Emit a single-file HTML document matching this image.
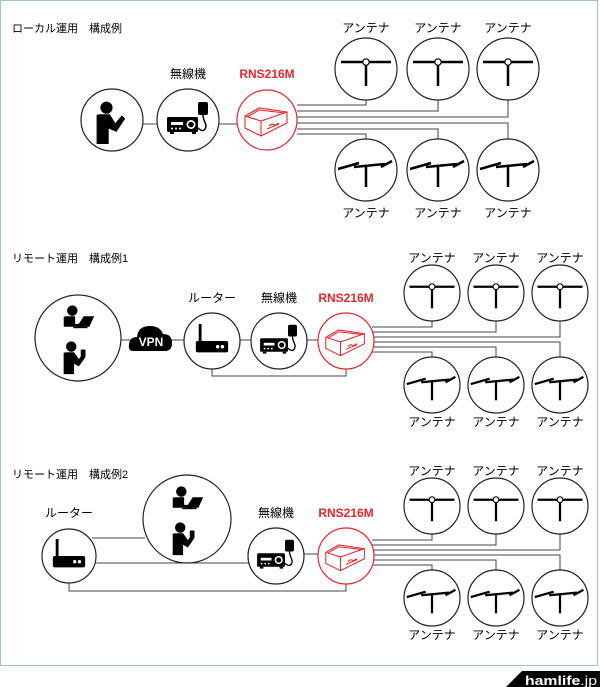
<!DOCTYPE html>
<html><head><meta charset="utf-8"><style>
html,body{margin:0;padding:0;background:#fff;}
svg{display:block;}
text{font-family:"Liberation Sans","Noto Sans CJK JP",sans-serif;}
</style></head><body>
<svg width="600" height="687" viewBox="0 0 600 687" xmlns="http://www.w3.org/2000/svg">
<defs>
<g id="dip">
 <line x1="-25" y1="-7" x2="25" y2="-7" stroke="#000" stroke-width="2.5"/>
 <line x1="0" y1="-7" x2="0" y2="17" stroke="#000" stroke-width="2.5"/>
 <circle cx="0" cy="-7" r="3.2" fill="#fff" stroke="#000" stroke-width="1.2"/>
</g>
<g id="yagi" fill="none" stroke="#000" stroke-width="2.5">
 <path d="M-28,-1 L-7,-7 M-12,-3 L19,-6 M15,-3 L26,-9"/>
 <line x1="0" y1="-4" x2="0" y2="17"/>
</g>
<g id="radio">
 <rect x="-21" y="-3" width="31" height="15" rx="1.5" fill="#000"/>
 <circle cx="3" cy="4.5" r="4.5" fill="#fff"/><circle cx="3" cy="4.5" r="2.8" fill="#000"/>
 <rect x="-17" y="2" width="12" height="3" fill="#fff"/>
 <circle cx="-16" cy="8.5" r="1" fill="#fff"/><circle cx="-12" cy="8.5" r="1" fill="#fff"/><circle cx="-8" cy="8.5" r="1" fill="#fff"/>
 <rect x="-18" y="12" width="4" height="2" fill="#000"/><rect x="4" y="12" width="4" height="2" fill="#000"/>
 <rect x="10" y="-18" width="10" height="13" rx="2" fill="#000"/>
 <path d="M15,-5 C15,2 20,4 17,9 C15,12 12,10 10,8" fill="none" stroke="#000" stroke-width="1.5"/>
</g>
<g id="rns" fill="none" stroke="#e8262b" stroke-width="1.1">
 <path d="M-22,-4 L-8,-12 L20,-8 L20,3 L-6,16 L-22,8 Z"/>
 <path d="M-22,-4 L-6,1 L20,-8 M-6,1 L-6,16"/>
 <path d="M-20,-3 L-8,-10 L18,-7"/>
 <path d="M2,6 l3,-2 l3,1 l4,-2 M0,9 l12,-5"/>
</g>
<g id="person">
 <circle cx="-5" cy="-13" r="5.5" fill="#000"/>
 <path d="M-14,-6 Q-14,-7 -10,-7 L-2,-7 L3,1 L9,-6 L12,-3 L4,9 L-3,6 L-3,20 L-14,20 Z" fill="#000"/>
</g>
<g id="laptop">
 <circle cx="-6" cy="-12" r="5.5" fill="#000"/>
 <path d="M-15,-5 Q-15,-6 -11,-6 L-3,-6 L-3,2 L6,2 L6,5 L-15,5 Z" fill="#000"/>
 <path d="M-1,5 L6,-6 L17,-6 L12,5 Z" fill="#000"/>
 <rect x="-5" y="5" width="15" height="1.5" fill="#000"/>
</g>
<g id="phone">
 <circle cx="-5" cy="-12" r="5.5" fill="#000"/>
 <path d="M-13,-5 Q-13,-6 -9,-6 L-2,-6 L3,1 L7,-4 L10,-1 L3,9 L-2,6 L-2,17 L-13,17 Z" fill="#000"/>
 <rect x="5" y="-9" width="5" height="8" rx="1" fill="#000"/>
</g>
<g id="router">
 <rect x="-17" y="0" width="34" height="12" rx="2" fill="#000"/>
 <rect x="-14" y="-18" width="3" height="19" fill="#000"/>
 <circle cx="6" cy="6" r="1.8" fill="#fff"/><circle cx="11" cy="6" r="1.8" fill="#fff"/>
</g>
</defs>

<rect x="0.5" y="0.5" width="597" height="665" fill="#fff" stroke="#9cc3e6" stroke-width="1"/>

<g font-size="11" fill="#000">
<text x="12" y="32">ローカル運用　構成例</text>
<text x="12" y="262">リモート運用　構成例1</text>
<text x="12" y="478">リモート運用　構成例2</text>
</g>

<!-- SECTION 1 -->
<g stroke="#444" stroke-width="1" fill="none">
 <line x1="143" y1="124" x2="157" y2="124"/>
 <line x1="219" y1="124" x2="237" y2="124"/>
 <polyline points="297,105 366,105 366,100"/>
 <polyline points="297,111 438,111 438,100"/>
 <polyline points="297,117 508,117 508,100"/>
 <polyline points="297,123 508,123 508,139"/>
 <polyline points="297,129 438,129 438,139"/>
 <polyline points="297,134 366,134 366,139"/>
</g>
<g fill="#fff" stroke="#222" stroke-width="1.2">
 <circle cx="112" cy="120" r="31"/>
 <circle cx="188" cy="120" r="31"/>
 <circle cx="366" cy="69" r="31"/><circle cx="438" cy="69" r="31"/><circle cx="508" cy="69" r="31"/>
 <circle cx="366" cy="170" r="31"/><circle cx="438" cy="170" r="31"/><circle cx="508" cy="170" r="31"/>
</g>
<circle cx="267" cy="120" r="30" fill="#fff" stroke="#e8262b" stroke-width="1.2"/>
<use href="#person" transform="translate(112,122) scale(1.1)"/>
<use href="#radio" x="188" y="120"/>
<use href="#rns" x="267" y="120"/>
<use href="#dip" x="366" y="69"/><use href="#dip" x="438" y="69"/><use href="#dip" x="508" y="69"/>
<use href="#yagi" x="366" y="170"/><use href="#yagi" x="438" y="170"/><use href="#yagi" x="508" y="170"/>
<g font-size="12" text-anchor="middle">
 <text x="188" y="78">無線機</text>
 <text x="267" y="78" fill="#e8262b" font-weight="bold">RNS216M</text>
 <text x="366" y="32">アンテナ</text><text x="438" y="32">アンテナ</text><text x="508" y="32">アンテナ</text>
 <text x="366" y="217">アンテナ</text><text x="438" y="217">アンテナ</text><text x="508" y="217">アンテナ</text>
</g>

<!-- SECTION 2 -->
<g stroke="#444" stroke-width="1" fill="none">
 <line x1="121" y1="340" x2="184" y2="340"/>
 <line x1="240" y1="340" x2="251" y2="340"/>
 <line x1="307" y1="340" x2="318" y2="340"/>
 <polyline points="212,369 212,376 346,376 346,369"/>
 <polyline points="372,327 432,327 432,320"/>
 <polyline points="372,332 496,332 496,320"/>
 <polyline points="372,337 560,337 560,320"/>
 <polyline points="372,342 560,342 560,358"/>
 <polyline points="372,347 496,347 496,358"/>
 <polyline points="372,352 432,352 432,358"/>
</g>
<g fill="#fff" stroke="#222" stroke-width="1.2">
 <circle cx="78" cy="338" r="43"/>
 <circle cx="212" cy="341" r="28"/>
 <circle cx="279" cy="341" r="28"/>
 <circle cx="432" cy="293" r="28"/><circle cx="496" cy="293" r="28"/><circle cx="560" cy="293" r="28"/>
 <circle cx="432" cy="385" r="28"/><circle cx="496" cy="385" r="28"/><circle cx="560" cy="385" r="28"/>
</g>
<circle cx="346" cy="341" r="28" fill="#fff" stroke="#e8262b" stroke-width="1.2"/>
<path d="M133,351 Q128,351 129,344 Q130,337 137,337 Q138,326 150,326 Q160,326 163,334 Q172,334 172,343 Q172,351 165,351 Z" fill="#000"/>
<text x="151" y="346" font-size="12" font-weight="bold" fill="#fff" text-anchor="middle">VPN</text>
<use href="#laptop" transform="translate(78,322) scale(0.95)"/>
<use href="#phone" transform="translate(76,358) scale(0.95)"/>
<use href="#router" transform="translate(212,341) scale(0.95)"/>
<use href="#radio" transform="translate(279,341) scale(0.9)"/>
<use href="#rns" transform="translate(346,341) scale(0.92)"/>
<use href="#dip" transform="translate(432,293) scale(0.9)"/><use href="#dip" transform="translate(496,293) scale(0.9)"/><use href="#dip" transform="translate(560,293) scale(0.9)"/>
<use href="#yagi" transform="translate(432,385) scale(0.9)"/><use href="#yagi" transform="translate(496,385) scale(0.9)"/><use href="#yagi" transform="translate(560,385) scale(0.9)"/>
<g font-size="12" text-anchor="middle">
 <text x="212" y="302">ルーター</text>
 <text x="279" y="302">無線機</text>
 <text x="346" y="302" fill="#e8262b" font-weight="bold">RNS216M</text>
 <text x="432" y="262">アンテナ</text><text x="496" y="262">アンテナ</text><text x="560" y="262">アンテナ</text>
 <text x="432" y="426">アンテナ</text><text x="496" y="426">アンテナ</text><text x="560" y="426">アンテナ</text>
</g>

<!-- SECTION 3 -->
<g stroke="#444" stroke-width="1" fill="none">
 <line x1="92" y1="538" x2="145" y2="538"/>
 <line x1="95" y1="563" x2="249" y2="563"/>
 <line x1="304" y1="554" x2="318" y2="554"/>
 <polyline points="69,583 69,591 346,591 346,584"/>
 <polyline points="372,540 432,540 432,533"/>
 <polyline points="372,545 496,545 496,533"/>
 <polyline points="372,550 560,550 560,533"/>
 <polyline points="372,555 560,555 560,571"/>
 <polyline points="372,560 496,560 496,571"/>
 <polyline points="372,565 432,565 432,571"/>
</g>
<g fill="#fff" stroke="#222" stroke-width="1.2">
 <circle cx="187" cy="519" r="44"/>
 <circle cx="69" cy="556" r="27"/>
 <circle cx="276" cy="556" r="28"/>
 <circle cx="432" cy="506" r="28"/><circle cx="496" cy="506" r="28"/><circle cx="560" cy="506" r="28"/>
 <circle cx="432" cy="598" r="28"/><circle cx="496" cy="598" r="28"/><circle cx="560" cy="598" r="28"/>
</g>
<circle cx="346" cy="556" r="28" fill="#fff" stroke="#e8262b" stroke-width="1.2"/>
<use href="#laptop" transform="translate(187,503) scale(0.95)"/>
<use href="#phone" transform="translate(185,539) scale(0.95)"/>
<use href="#router" transform="translate(69,556) scale(0.95)"/>
<use href="#radio" transform="translate(276,556) scale(0.9)"/>
<use href="#rns" transform="translate(346,556) scale(0.92)"/>
<use href="#dip" transform="translate(432,506) scale(0.9)"/><use href="#dip" transform="translate(496,506) scale(0.9)"/><use href="#dip" transform="translate(560,506) scale(0.9)"/>
<use href="#yagi" transform="translate(432,598) scale(0.9)"/><use href="#yagi" transform="translate(496,598) scale(0.9)"/><use href="#yagi" transform="translate(560,598) scale(0.9)"/>
<g font-size="12" text-anchor="middle">
 <text x="69" y="517">ルーター</text>
 <text x="276" y="517">無線機</text>
 <text x="346" y="517" fill="#e8262b" font-weight="bold">RNS216M</text>
 <text x="432" y="475">アンテナ</text><text x="496" y="475">アンテナ</text><text x="560" y="475">アンテナ</text>
 <text x="432" y="639">アンテナ</text><text x="496" y="639">アンテナ</text><text x="560" y="639">アンテナ</text>
</g>

<!-- badge -->
<path d="M506,687 L522,671 L600,671 L600,687 Z" fill="#000"/>
<text x="525" y="685" font-size="13" font-weight="bold" fill="#fff" textLength="72" lengthAdjust="spacingAndGlyphs">hamlife<tspan font-weight="normal">.jp</tspan></text>
</svg>
</body></html>
